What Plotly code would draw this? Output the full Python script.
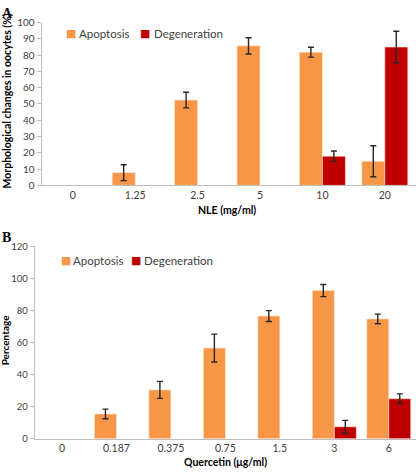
import plotly.graph_objects as go

# Panel A data
nle_cats = ["0", "1.25", "2.5", "5", "10", "20"]
a_apoptosis = [0, 7.8, 52.4, 85.7, 81.8, 14.8]
a_apoptosis_err = [0, 4.9, 4.8, 5.0, 3.0, 9.5]
a_degeneration = [0, 0, 0, 0, 17.9, 85.0]
a_degeneration_err = [0, 0, 0, 0, 3.2, 9.7]
a_yticks = list(range(0, 101, 10))

# Panel B data
q_cats = ["0", "0.187", "0.375", "0.75", "1.5", "3", "6"]
b_apoptosis = [0, 15.5, 30.5, 56.6, 76.6, 92.5, 74.8]
b_apoptosis_err = [0, 3.0, 5.3, 8.7, 3.4, 3.8, 3.0]
b_degeneration = [0, 0, 0, 0, 0, 7.5, 25.0]
b_degeneration_err = [0, 0, 0, 0, 0, 4.0, 3.0]
b_yticks = list(range(0, 121, 20))

series_names = ["Apoptosis", "Degeneration"]

ORANGE = "#F79646"
RED = "#C00000"
W, H = 416, 475
FONT = "Lato"
TXT = "#404040"


def py(px):
    return 1 - px / H


def px_x(px):
    return px / W


def nz(vals):
    return [v if v else None for v in vals]


fig = go.Figure()


def add_bars(cats, vals, errs, color, name, xa, ya, width, offset):
    fig.add_trace(go.Bar(
        x=cats, y=nz(vals), name=name,
        marker=dict(color=color, line=dict(color="#FCE4D2", width=0.6)),
        width=width, offset=offset, xaxis=xa, yaxis=ya, showlegend=False,
        error_y=dict(type="data", array=nz(errs), visible=True, color="#262626",
                     thickness=1.4, width=3),
    ))


wa = 23 / 62.4
add_bars(nle_cats, a_apoptosis, a_apoptosis_err, ORANGE, series_names[0], "x", "y", wa, -wa)
add_bars(nle_cats, a_degeneration, a_degeneration_err, RED, series_names[1], "x", "y", wa, 0)
wb = 22 / 54.5
add_bars(q_cats, b_apoptosis, b_apoptosis_err, ORANGE, series_names[0], "x2", "y2", wb, -wb)
add_bars(q_cats, b_degeneration, b_degeneration_err, RED, series_names[1], "x2", "y2", wb, 0)

axis_common = dict(showgrid=False, zeroline=False, showline=True, linecolor="#BFBFBF",
                   linewidth=1)

fig.update_layout(
    width=W, height=H, margin=dict(l=0, r=0, t=0, b=0),
    plot_bgcolor="white", paper_bgcolor="white",
    barmode="overlay", showlegend=False,
    xaxis=dict(domain=[0.1, 1.0], anchor="y", type="category", ticks="", range=[-0.5, 5.5],
               tickfont=dict(family=FONT, size=10.5, color=TXT), **axis_common),
    yaxis=dict(domain=[py(184), py(17)], anchor="x", range=[0, 100], tickvals=a_yticks,
               ticks="outside", ticklen=4, tickcolor="#BFBFBF",
               tickfont=dict(family=FONT, size=10, color=TXT), **axis_common),
    xaxis2=dict(domain=[0.0835, 1.0], anchor="y2", type="category", ticks="", range=[-0.5, 6.5],
                tickfont=dict(family=FONT, size=10.5, color=TXT), **axis_common),
    yaxis2=dict(domain=[py(444), py(246.7)], anchor="x2", range=[0, 120], tickvals=b_yticks,
                ticks="outside", ticklen=4, tickcolor="#BFBFBF",
                tickfont=dict(family=FONT, size=9.5, color=TXT), **axis_common),
)

anns = [
    dict(text="<b>A</b>", x=px_x(0), y=py(8), font=dict(family="Liberation Serif", size=14, color="black"),
         xanchor="left"),
    dict(text="<b>B</b>", x=px_x(0), y=py(237), font=dict(family="Liberation Serif", size=14, color="black"),
         xanchor="left"),
    dict(text="<b>Morphological changes in oocytes (%)</b>", x=px_x(7), y=py(98), textangle=-90,
         font=dict(family=FONT, size=10.5, color="black"), xanchor="center"),
    dict(text="<b>Percentage</b>", x=px_x(5), y=py(343), textangle=-90,
         font=dict(family=FONT, size=10, color="black"), xanchor="center"),
    dict(text="<b>NLE (mg/ml)</b>", x=px_x(227), y=py(209),
         font=dict(family=FONT, size=10.5, color="black"), xanchor="center"),
    dict(text="<b>Quercetin (μg/ml)</b>", x=px_x(226), y=py(468),
         font=dict(family=FONT, size=10.5, color="black"), xanchor="center"),
]

# legends (square swatch + label) for both panels
legend_spec = [
    (series_names[0], ORANGE, 71, 77, 28),
    (series_names[1], RED, 145, 152, 28),
    (series_names[0], ORANGE, 65.5, 71, 261),
    (series_names[1], RED, 135.5, 142, 261),
]
for name, color, sq_x, tx_x, ly in legend_spec:
    anns.append(dict(text="■", x=px_x(sq_x), y=py(ly), xanchor="center",
                     font=dict(family="DejaVu Sans", size=11, color=color)))
    anns.append(dict(text=name, x=px_x(tx_x), y=py(ly), xanchor="left",
                     font=dict(family=FONT, size=11.5, color=TXT)))

for a in anns:
    a.update(xref="paper", yref="paper", showarrow=False, yanchor="middle")
    fig.add_annotation(**a)

fig.write_html("out.html", config={"displayModeBar": False},
               post_script="document.body.style.margin='0';document.body.style.overflow='hidden';")
